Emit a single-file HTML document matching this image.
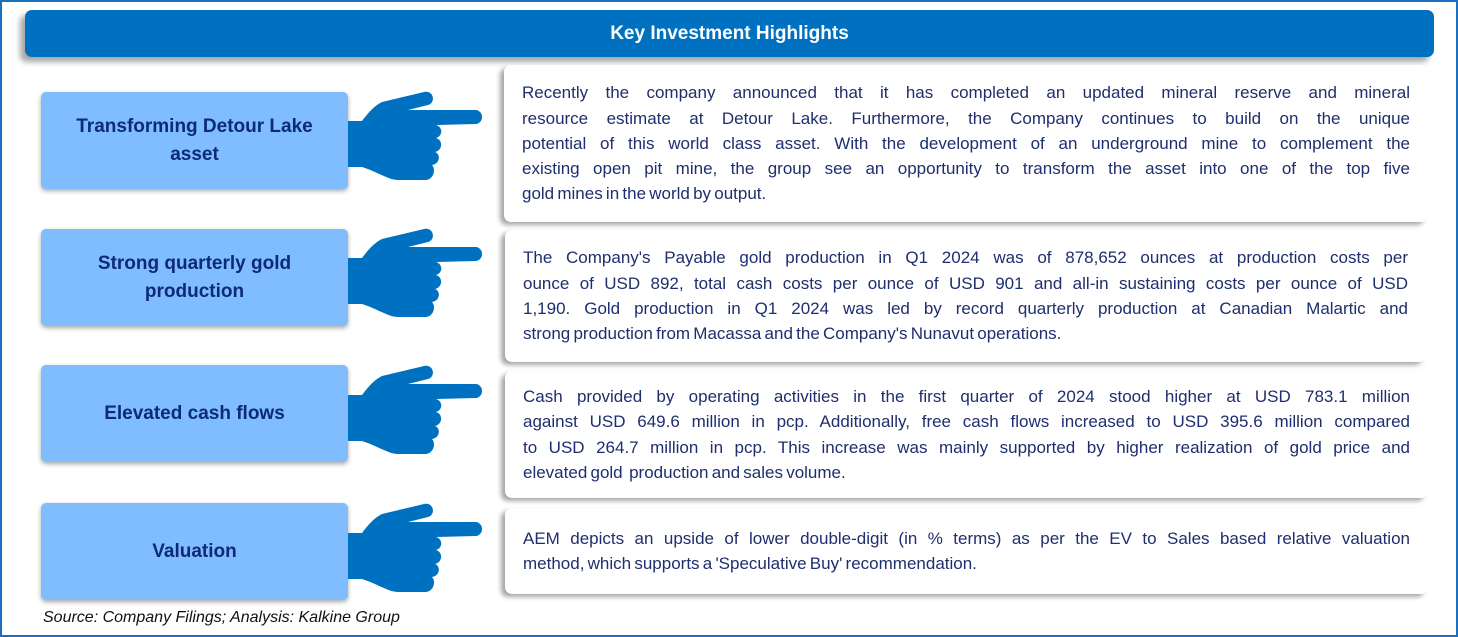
<!DOCTYPE html>
<html><head><meta charset="utf-8"><style>
*{margin:0;padding:0;box-sizing:border-box}
body{width:1458px;height:637px;background:#fff;position:relative;overflow:hidden;font-family:"Liberation Sans",sans-serif}
#frame{position:absolute;left:0;top:0;width:1458px;height:637px;border:2px solid #1a6fc0}
.hdr{position:absolute;left:25px;top:10px;width:1409px;height:47px;background:#0070C0;border-radius:7px;box-shadow:-5px 5px 6px rgba(0,0,0,.35);color:#fff;font-weight:bold;font-size:19px;text-align:center;line-height:47px}
.lb{position:absolute;left:41px;width:307px;height:97px;background:#7FBDFE;border-radius:5px;box-shadow:0 2px 5px rgba(0,0,0,.35);color:#0d2a78;font-weight:bold;font-size:19px;display:flex;align-items:center;justify-content:center;text-align:center;line-height:28px}
.rb{position:absolute;left:504px;width:924px;background:#fff;border-radius:7px;box-shadow:-4px 3px 5px rgba(0,0,0,.35);color:#1e2e6e;font-size:17px;word-spacing:-1.5px;padding:0 18px 0 18px;display:flex;flex-direction:column;justify-content:center}
.rb div{text-align:justify;text-align-last:justify;line-height:25.3px;white-space:nowrap;overflow:visible}
.rb div.l{text-align-last:left}
.hand{position:absolute;left:348px;width:136px;height:96px}
.src{position:absolute;left:43px;top:609px;font-style:italic;font-size:16px;color:#111}
</style></head><body>
<div id="frame"></div>
<div class="hdr">Key Investment Highlights</div>

<div class="lb" style="top:92px">Transforming Detour Lake<br>asset</div>
<div class="lb" style="top:229px">Strong quarterly gold<br>production</div>
<div class="lb" style="top:365px">Elevated cash flows</div>
<div class="lb" style="top:503px">Valuation</div>

<svg class="hand" style="top:88px" viewBox="0 0 136 96"><path fill="#0070C0" d="M0,33 L14,33 C20,25 26,18 34,14 L76,4 C86,2 88,15 80,17 L60,22 L128,22 C136,23 136,35 128,36 L88,37 C95,39 95,48 88,50 C95,52 95,62 87,64 C93,66 92,76 84,77 C88,81 86,91 78,92 L50,92 C40,92 30,84 14,79 L0,79 Z"/></svg>
<svg class="hand" style="top:225px" viewBox="0 0 136 96"><path fill="#0070C0" d="M0,33 L14,33 C20,25 26,18 34,14 L76,4 C86,2 88,15 80,17 L60,22 L128,22 C136,23 136,35 128,36 L88,37 C95,39 95,48 88,50 C95,52 95,62 87,64 C93,66 92,76 84,77 C88,81 86,91 78,92 L50,92 C40,92 30,84 14,79 L0,79 Z"/></svg>
<svg class="hand" style="top:362px" viewBox="0 0 136 96"><path fill="#0070C0" d="M0,33 L14,33 C20,25 26,18 34,14 L76,4 C86,2 88,15 80,17 L60,22 L128,22 C136,23 136,35 128,36 L88,37 C95,39 95,48 88,50 C95,52 95,62 87,64 C93,66 92,76 84,77 C88,81 86,91 78,92 L50,92 C40,92 30,84 14,79 L0,79 Z"/></svg>
<svg class="hand" style="top:500px" viewBox="0 0 136 96"><path fill="#0070C0" d="M0,33 L14,33 C20,25 26,18 34,14 L76,4 C86,2 88,15 80,17 L60,22 L128,22 C136,23 136,35 128,36 L88,37 C95,39 95,48 88,50 C95,52 95,62 87,64 C93,66 92,76 84,77 C88,81 86,91 78,92 L50,92 C40,92 30,84 14,79 L0,79 Z"/></svg>

<div class="rb" style="top:65px;height:157px">
<div>Recently the company announced that it has completed an updated mineral reserve and mineral</div>
<div>resource estimate at Detour Lake. Furthermore, the Company continues to build on the unique</div>
<div>potential of this world class asset. With the development of an underground mine to complement the</div>
<div>existing open pit mine, the group see an opportunity to transform the asset into one of the top five</div>
<div class="l">gold mines in the world by output.</div>
</div>
<div class="rb" style="top:230px;height:132px;left:505px;width:921px">
<div>The Company's Payable gold production in Q1 2024 was of 878,652 ounces at production costs per</div>
<div>ounce of USD 892, total cash costs per ounce of USD 901 and all-in sustaining costs per ounce of USD</div>
<div>1,190. Gold production in Q1 2024 was led by record quarterly production at Canadian Malartic and</div>
<div class="l">strong production from Macassa and the Company's Nunavut operations.</div>
</div>
<div class="rb" style="top:371px;height:127px;left:505px;width:923px">
<div>Cash provided by operating activities in the first quarter of 2024 stood higher at USD 783.1 million</div>
<div>against USD 649.6 million in pcp. Additionally, free cash flows increased to USD 395.6 million compared</div>
<div>to USD 264.7 million in pcp. This increase was mainly supported by higher realization of gold price and</div>
<div class="l">elevated gold&nbsp; production and sales volume.</div>
</div>
<div class="rb" style="top:508px;height:86px;left:505px;width:923px">
<div>AEM depicts an upside of lower double-digit (in % terms) as per the EV to Sales based relative valuation</div>
<div class="l">method, which supports a 'Speculative Buy' recommendation.</div>
</div>

<div class="src">Source: Company Filings; Analysis: Kalkine Group</div>
</body></html>
